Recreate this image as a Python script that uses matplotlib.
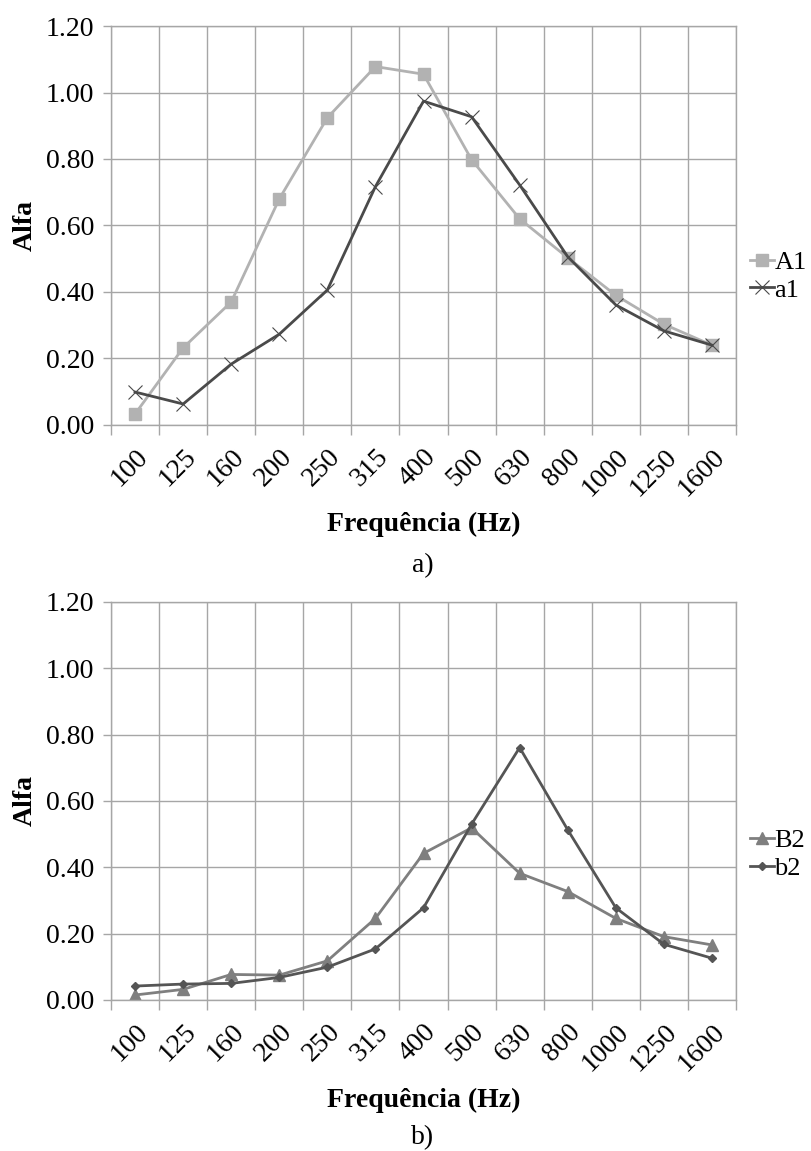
import numpy as np
import matplotlib
matplotlib.use("Agg")
import matplotlib.pyplot as plt
from matplotlib.ticker import FixedLocator

plt.rcParams['font.family'] = ['Liberation Serif', 'DejaVu Serif']

freqs = ['100', '125', '160', '200', '250', '315', '400', '500', '630', '800', '1000', '1250', '1600']

A1 = [0.033, 0.232, 0.370, 0.680, 0.924, 1.078, 1.055, 0.798, 0.620, 0.503, 0.390, 0.303, 0.240]
a1 = [0.099, 0.063, 0.183, 0.273, 0.406, 0.717, 0.974, 0.927, 0.722, 0.506, 0.361, 0.283, 0.240]

B2 = [0.015, 0.032, 0.077, 0.075, 0.118, 0.246, 0.442, 0.519, 0.382, 0.327, 0.246, 0.191, 0.166]
b2 = [0.042, 0.048, 0.050, 0.068, 0.099, 0.154, 0.278, 0.530, 0.761, 0.513, 0.278, 0.168, 0.126]

grid_col = '#a6a6a6'
fs = 20


def style_axes(ax):
    n = len(freqs)
    x = np.arange(n)
    ax.set_xlim(-0.5, n - 0.5)
    ax.set_ylim(0, 1.2)
    ax.set_xticks(x)
    ax.set_xticklabels(freqs, rotation=45, ha='right', va='top', rotation_mode='anchor', fontsize=fs)
    ax.xaxis.set_minor_locator(FixedLocator(np.arange(-0.5, n, 1.0)))
    ax.tick_params(axis='x', which='major', length=0, pad=14)
    ax.tick_params(axis='x', which='minor', length=7, color=grid_col, width=1)
    ax.set_yticks(np.arange(0, 1.21, 0.2))
    ax.set_yticklabels(['%.2f' % v for v in np.arange(0, 1.21, 0.2)], fontsize=fs)
    ax.tick_params(axis='y', length=6, color=grid_col, width=1, pad=6)
    ax.grid(True, which='minor', axis='x', color=grid_col, lw=1)
    ax.grid(True, which='major', axis='y', color=grid_col, lw=1)
    for s in ax.spines.values():
        s.set_color(grid_col)
        s.set_linewidth(1)
    ax.set_axisbelow(True)
    ax.set_ylabel('Alfa', fontsize=fs, fontweight='bold', labelpad=6)
    ax.set_xlabel('Frequência (Hz)', fontsize=fs, fontweight='bold', labelpad=8)
    return x


fig = plt.figure(figsize=(8.11, 11.51), dpi=100)

ax1 = fig.add_axes([0.1369, 0.6308, 0.7706, 0.3466])
x = style_axes(ax1)
ax1.plot(x, A1, color='#b2b2b2', lw=2, marker='s', ms=8, label='A1')
ax1.plot(x, a1, color='#4a4a4a', lw=2, marker='x', ms=10, mew=0.8, label='a1')
ax1.legend(loc='center left', bbox_to_anchor=(1.0, 0.373), frameon=False, fontsize=19,
           handlelength=0.9, handletextpad=0.0, labelspacing=0.15, borderaxespad=0.15)

ax2 = fig.add_axes([0.1369, 0.1312, 0.7706, 0.3458])
x = style_axes(ax2)
ax2.plot(x, B2, color='#7f7f7f', lw=2, marker='^', ms=9, label='B2')
ax2.plot(x, b2, color='#555555', lw=2, marker='D', ms=4, label='b2')
ax2.legend(loc='center left', bbox_to_anchor=(1.0, 0.366), frameon=False, fontsize=19,
           handlelength=0.9, handletextpad=0.0, labelspacing=0.15, borderaxespad=0.15)

fig.text(0.5216, 1 - 566 / 1151, 'a)', ha='center', va='center', fontsize=fs)
fig.text(0.5216, 1 - 1138 / 1151, 'b)', ha='center', va='center', fontsize=fs)

fig.savefig('out.png', dpi=100)
